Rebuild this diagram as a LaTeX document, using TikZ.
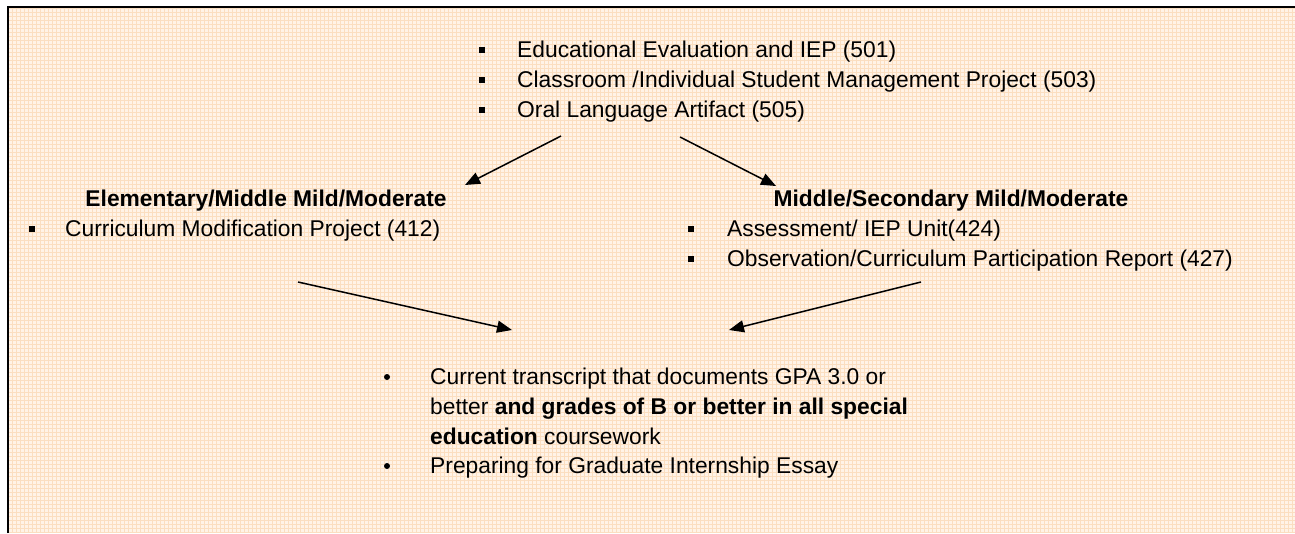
\documentclass[tikz,border=0pt]{standalone}
\usepackage{fontspec}
\setmainfont{Liberation Sans}
\usetikzlibrary{arrows.meta,calc,positioning}
\definecolor{peach}{RGB}{255,243,231}
\definecolor{plaid}{RGB}{251,222,192}

\begin{document}
\begin{tikzpicture}
      [x = 1pt, y = -1pt,
      txt/.style= {
         anchor = base west,
         inner sep = 0pt,
         font = \fontsize{22.8}{29.7}\selectfont
      },
      head/.style= {
         txt,
         anchor = base,
         font = \fontsize{22.8}{29.7}\selectfont\bfseries
      },
      sq/.style= {
         fill = black,
         inner sep = 0pt,
         minimum size = 5.5pt
      },
      dot/.style= {
         fill = black,
         circle,
         inner sep = 0pt,
         minimum size = 6pt
      },
      link/.style= {
         -{Triangle[length = 15pt, width = 12pt]},
         line width = 1.5pt
      }]

      \useasboundingbox (0, 0) rectangle (1295, 533);
      \fill[peach] (8, 7) rectangle (1295, 533);
      \begin{scope}
         \clip (8, 7) rectangle (1295, 533);
         \draw[plaid, line width = 1pt, step = 4pt] (8, 7) grid (1295, 533);
      \end{scope}
      \draw[line width = 2pt] (8, 533) -- (8, 7) -- (1295, 7);

      \node[txt] (eval) at (517, 57) {Educational Evaluation and IEP (501)};
      \node[txt] (mgmt) at (517, 87) {Classroom /Individual Student Management Project (503)};
      \node[txt] (oral) at (517, 117) {Oral Language Artifact (505)};
      \node[sq] at ($(eval.base west) + (-35, -7)$) {};
      \node[sq] at ($(mgmt.base west) + (-35, -7)$) {};
      \node[sq] at ($(oral.base west) + (-35, -7)$) {};

      \node[head] (elem) at (266, 206) {Elementary/Middle Mild/Moderate};
      \node[txt] (curr) at (65, 236) {Curriculum Modification Project (412)};
      \node[sq] at ($(curr.base west) + (-33, -7)$) {};

      \node[head] (sec) at (951, 206) {Middle/Secondary Mild/Moderate};
      \node[txt] (assess) at (727, 236) {Assessment/ IEP Unit(424)};
      \node[txt] (obs) at (727, 266) {Observation/Curriculum Participation Report (427)};
      \node[sq] at ($(assess.base west) + (-36, -7)$) {};
      \node[sq] at ($(obs.base west) + (-36, -7)$) {};

      \node[txt] (gpa) at (430, 384) {Current transcript that documents GPA 3.0 or};
      \node[txt] (gpb) at (430, 414) {better \textbf{and grades of B or better in all special}};
      \node[txt] (gpc) at (430, 444) {\textbf{education} coursework};
      \node[txt] (essay) at (430, 473) {Preparing for Graduate Internship Essay};
      \node[dot] at ($(gpa.base west) + (-43, -7)$) {};
      \node[dot] at ($(essay.base west) + (-43, -7)$) {};

      \coordinate (topL) at (561, 136);
      \coordinate (topR) at (680, 137);
      \coordinate (elemTip) at (465, 185);
      \coordinate (secTip) at (776, 186);
      \coordinate (elemEnd) at (298, 282);
      \coordinate (secEnd) at (921, 282);
      \coordinate (gpaL) at (512, 330);
      \coordinate (gpaR) at (729, 330);

      \draw[link] (topL) -- (elemTip);
      \draw[link] (topR) -- (secTip);
      \draw[link] (elemEnd) -- (gpaL);
      \draw[link] (secEnd) -- (gpaR);

   \end{tikzpicture}
\end{document}
